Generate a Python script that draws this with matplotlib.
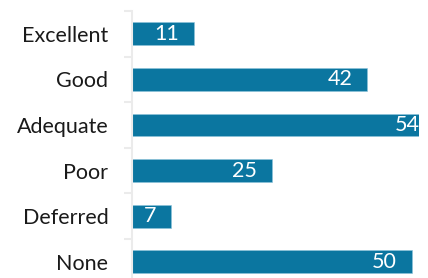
import matplotlib
matplotlib.use("Agg")
import matplotlib.pyplot as plt
from matplotlib.transforms import offset_copy

categories = ["Excellent", "Good", "Adequate", "Poor", "Deferred", "None"]
values = [11, 42, 54, 25, 7, 50]

BAR = "#0B76A0"
GRID = "#EBEBEB"
FONT = "Lato"

W, H = 428, 278
fig = plt.figure(figsize=(W / 100, H / 100), dpi=100)
left, right, top, bottom = 132, 419, 11, 284.6
ax = fig.add_axes([left / W, (H - bottom) / H, (right - left) / W, (bottom - top) / H])

y = list(range(len(categories)))
ax.barh(y, values, height=0.5, color=BAR, edgecolor="#8EC3DA", linewidth=0.4)
ax.set_xlim(0, 51.25)
ax.set_ylim(len(categories) - 0.5, -0.5)

for yi, v in zip(y, values):
    tr = offset_copy(ax.transData, fig=fig, x=-15, y=0, units="dots")
    ax.text(v, yi, str(v), transform=tr, ha="right", va="center", color="white",
            fontsize=15.5, family=FONT, clip_on=False)

for s in ["top", "right", "bottom"]:
    ax.spines[s].set_visible(False)
ax.spines["left"].set_color(GRID)
ax.spines["left"].set_linewidth(1.5)
ax.set_xticks([])
ax.set_yticks(y)
ax.set_yticklabels(categories, fontsize=15.5, family=FONT, color="#1a1a1a")
ax.tick_params(axis="y", which="major", length=0, pad=17)
ax.set_yticks([i - 0.5 for i in range(len(categories) + 1)], minor=True)
ax.tick_params(axis="y", which="minor", length=6, width=1.5, color=GRID)

fig.savefig("out.png", dpi=100)
